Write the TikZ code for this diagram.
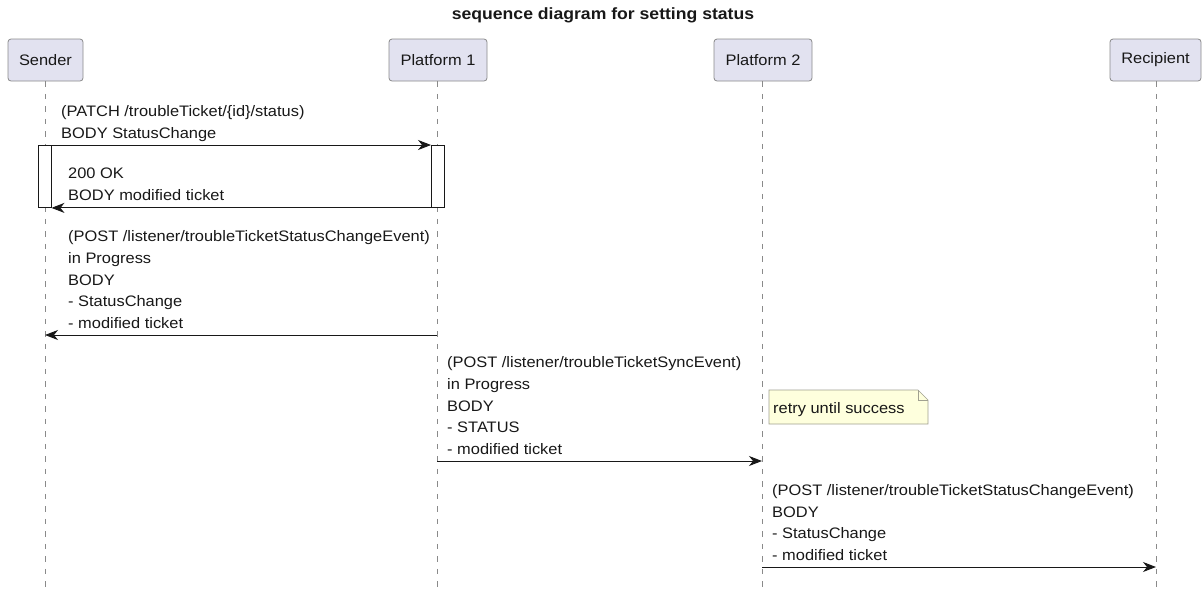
\documentclass[tikz,border=0pt]{standalone}
\usepackage{fontspec}
\setmainfont[FakeStretch=1.08]{Liberation Sans}
\usetikzlibrary{arrows.meta}
\definecolor{partfill}{HTML}{E2E2F0}
\definecolor{partdraw}{HTML}{8A8A8A}
\definecolor{notefill}{HTML}{FEFFDD}
\definecolor{notedraw}{HTML}{A0A090}
\definecolor{lifecol}{HTML}{8A8A8A}
\definecolor{ink}{HTML}{181818}
\begin{document}
\begin{tikzpicture}[x=1pt,y=-1pt,
  every node/.style={font=\fontsize{15.2}{21.6}\selectfont, text=ink},
  participant/.style={draw=partdraw, fill=partfill, rounded corners=3pt, minimum height=42pt, inner sep=0pt, line width=0.8pt},
  lifeline/.style={draw=lifecol, line width=0.7pt, dash pattern=on 5.5pt off 7pt},
  msg/.style={draw=ink, line width=1pt, -{Stealth[length=13pt,width=10pt,inset=4pt]}},
  lbl/.style={anchor=south west, inner sep=0pt, align=left, text depth=3pt},
  actbox/.style={draw=ink, fill=white, line width=0.9pt, inner sep=0pt, minimum width=13pt, minimum height=62pt, anchor=north},
  notebox/.style={draw=notedraw, fill=notefill, line width=0.7pt},
]
\useasboundingbox (0,0) rectangle (1202,590);

% title
\node[font=\bfseries\fontsize{16.3}{18}\selectfont] (title) at (603,15) {sequence diagram for setting status};

% participants
\node[participant, minimum width=75pt] (snd) at (45.5,60) {Sender};
\node[participant, minimum width=98pt] (p1) at (438,60) {Platform 1};
\node[participant, minimum width=98pt] (p2) at (763,60) {Platform 2};
\node[participant, minimum width=91pt] (rcp) at (1155.5,60) {Recipient};

% lifeline ends
\coordinate (sndEnd) at (45,588);
\coordinate (p1End) at (437,588);
\coordinate (p2End) at (762,588);
\coordinate (rcpEnd) at (1156,588);

\draw[lifeline] (snd.south -| sndEnd) -- (sndEnd);
\draw[lifeline] (p1.south -| p1End) -- (p1End);
\draw[lifeline] (p2.south -| p2End) -- (p2End);
\draw[lifeline] (rcp.south -| rcpEnd) -- (rcpEnd);

% activations
\node[actbox] (sa) at (44.5,145) {};
\node[actbox] (pa) at (438,145) {};

% message 1
\draw[msg] (sa.north east) -- (pa.north west);
\node[lbl] (l1) at (61,141.5) {(PATCH /troubleTicket/\{id\}/status)\\BODY StatusChange};

% message 2 (return)
\draw[msg] (pa.south west) -- (sa.south east);
\node[lbl] (l2) at (68,203.5) {200 OK\\BODY modified ticket};

% message 3
\draw[msg] (p1End |- 0,335) -- (sndEnd |- 0,335);
\node[lbl] (l3) at (68,331.5) {(POST /listener/troubleTicketStatusChangeEvent)\\in Progress\\BODY\\- StatusChange\\- modified ticket};

% message 4
\draw[msg] (p1End |- 0,461) -- (p2End |- 0,461);
\node[lbl] (l4) at (447,457.5) {(POST /listener/troubleTicketSyncEvent)\\in Progress\\BODY\\- STATUS\\- modified ticket};

% note
\draw[notebox] (769,390) -- (918,390) -- (928,400) -- (928,424) -- (769,424) -- cycle;
\draw[notebox, fill=none] (918,390) -- (918,400) -- (928,400);
\node[anchor=base west, inner sep=0pt] (nt) at (773,413) {retry until success};

% message 5
\draw[msg] (p2End |- 0,567) -- (rcpEnd |- 0,567);
\node[lbl] (l5) at (772,563.5) {(POST /listener/troubleTicketStatusChangeEvent)\\BODY\\- StatusChange\\- modified ticket};
\end{tikzpicture}
\end{document}
